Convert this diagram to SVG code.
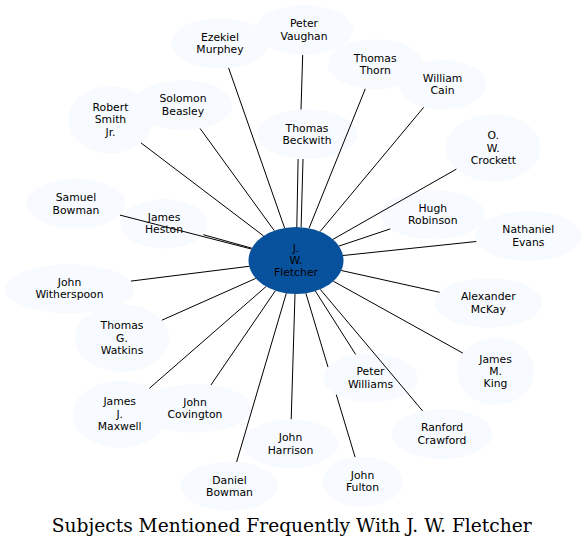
<svg xmlns="http://www.w3.org/2000/svg" width="587" height="547" viewBox="0 0 587 547">
<style>
.n ellipse{fill:#f7fbff;stroke:none}
.n text,.c text{font-family:"DejaVu Sans","Noto Sans",sans-serif;font-size:10.8px;fill:#000;text-anchor:middle}
.c ellipse{fill:#08519c;stroke:none}
.e path{stroke:#000;stroke-width:1;fill:none}
.title{font-family:"DejaVu Serif","Liberation Serif",serif;font-size:18px;fill:#000;text-anchor:middle}
</style>
<rect width="587" height="547" fill="#fff"/>
<g id="nodes">
<g id="ezekiel" class="n"><ellipse cx="220" cy="43.3" rx="49" ry="25"/><text><tspan x="220" y="40.6">Ezekiel</tspan><tspan x="220" y="53">Murphey</tspan></text></g>
<g id="vaughan" class="n"><ellipse cx="304" cy="30" rx="49" ry="25"/><text><tspan x="304" y="27.4">Peter</tspan><tspan x="304" y="39.7">Vaughan</tspan></text></g>
<g id="thorn" class="n"><ellipse cx="375.2" cy="64.3" rx="47.5" ry="25"/><text><tspan x="375.2" y="61.7">Thomas</tspan><tspan x="375.2" y="74">Thorn</tspan></text></g>
<g id="cain" class="n"><ellipse cx="442.5" cy="84.7" rx="44" ry="24.7"/><text><tspan x="442.5" y="82">William</tspan><tspan x="442.5" y="94.3">Cain</tspan></text></g>
<g id="smith" class="n"><ellipse cx="110.5" cy="119.7" rx="42" ry="33.7"/><text><tspan x="110.5" y="110.9">Robert</tspan><tspan x="110.5" y="123.2">Smith</tspan><tspan x="110.5" y="135.5">Jr.</tspan></text></g>
<g id="beasley" class="n"><ellipse cx="183" cy="105" rx="49.5" ry="25"/><text><tspan x="183" y="102.4">Solomon</tspan><tspan x="183" y="114.7">Beasley</tspan></text></g>
<g id="beckwith" class="n"><ellipse cx="307" cy="134.2" rx="50.3" ry="24.8"/><text><tspan x="307" y="131.6">Thomas</tspan><tspan x="307" y="143.9">Beckwith</tspan></text></g>
<g id="crockett" class="n"><ellipse cx="493.3" cy="148" rx="47.3" ry="33.7"/><text><tspan x="493.3" y="139.2">O.</tspan><tspan x="493.3" y="151.5">W.</tspan><tspan x="493.3" y="163.8">Crockett</tspan></text></g>
<g id="samuel" class="n"><ellipse cx="76" cy="203.8" rx="49.3" ry="25"/><text><tspan x="76" y="201.2">Samuel</tspan><tspan x="76" y="213.5">Bowman</tspan></text></g>
<g id="heston" class="n"><ellipse cx="164" cy="223.7" rx="44" ry="24.7"/><text><tspan x="164" y="221">James</tspan><tspan x="164" y="233.3">Heston</tspan></text></g>
<g id="robinson" class="n"><ellipse cx="432.8" cy="214.7" rx="52" ry="24.7"/><text><tspan x="432.8" y="212">Hugh</tspan><tspan x="432.8" y="224.3">Robinson</tspan></text></g>
<g id="evans" class="n"><ellipse cx="528.3" cy="236" rx="53.3" ry="25"/><text><tspan x="528.3" y="233.4">Nathaniel</tspan><tspan x="528.3" y="245.7">Evans</tspan></text></g>
<g id="witherspoon" class="n"><ellipse cx="69.5" cy="288.7" rx="64.5" ry="24.7"/><text><tspan x="69.5" y="286">John</tspan><tspan x="69.5" y="298.3">Witherspoon</tspan></text></g>
<g id="watkins" class="n"><ellipse cx="122" cy="338" rx="47" ry="33.7"/><text><tspan x="122" y="329.2">Thomas</tspan><tspan x="122" y="341.5">G.</tspan><tspan x="122" y="353.8">Watkins</tspan></text></g>
<g id="mckay" class="n"><ellipse cx="488.3" cy="303" rx="54" ry="24.7"/><text><tspan x="488.3" y="300.4">Alexander</tspan><tspan x="488.3" y="312.7">McKay</tspan></text></g>
<g id="king" class="n"><ellipse cx="495.5" cy="371.3" rx="38.8" ry="33.7"/><text><tspan x="495.5" y="362.5">James</tspan><tspan x="495.5" y="374.8">M.</tspan><tspan x="495.5" y="387.1">King</tspan></text></g>
<g id="maxwell" class="n"><ellipse cx="119.7" cy="414.2" rx="47" ry="33.5"/><text><tspan x="119.7" y="405.4">James</tspan><tspan x="119.7" y="417.7">J.</tspan><tspan x="119.7" y="430">Maxwell</tspan></text></g>
<g id="covington" class="n"><ellipse cx="195" cy="408.3" rx="56" ry="24.3"/><text><tspan x="195" y="405.7">John</tspan><tspan x="195" y="418">Covington</tspan></text></g>
<g id="williams" class="n"><ellipse cx="370.5" cy="377.8" rx="47.2" ry="24.5"/><text><tspan x="370.5" y="375.2">Peter</tspan><tspan x="370.5" y="387.5">Williams</tspan></text></g>
<g id="crawford" class="n"><ellipse cx="442" cy="434" rx="50.3" ry="25"/><text><tspan x="442" y="431.4">Ranford</tspan><tspan x="442" y="443.7">Crawford</tspan></text></g>
<g id="harrison" class="n"><ellipse cx="290.5" cy="443.8" rx="48" ry="24.5"/><text><tspan x="290.5" y="441.2">John</tspan><tspan x="290.5" y="453.5">Harrison</tspan></text></g>
<g id="dbowman" class="n"><ellipse cx="229.5" cy="486.2" rx="48.8" ry="24.5"/><text><tspan x="229.5" y="483.6">Daniel</tspan><tspan x="229.5" y="495.9">Bowman</tspan></text></g>
<g id="fulton" class="n"><ellipse cx="362.5" cy="481.7" rx="40.2" ry="25"/><text><tspan x="362.5" y="479.1">John</tspan><tspan x="362.5" y="491.4">Fulton</tspan></text></g>
<g id="fletcher" class="c"><ellipse cx="296" cy="260.5" rx="47.5" ry="33.5"/><text><tspan x="296" y="251.7">J.</tspan><tspan x="296" y="264">W.</tspan><tspan x="296" y="276.3">Fletcher</tspan></text></g>
</g>
<g id="connectors" class="e">
<path d="M284.6,228 L228.6,67.9"/>
<path d="M274.3,230.7 L200.1,128.5"/>
<path d="M263.7,236 L141,142.9"/>
<path d="M251.4,249 L120,215.1"/>
<path d="M251.8,248.2 L203.4,234.7"/>
<path d="M296.8,227.3 L298.1,159"/>
<path d="M301.1,227.2 L303,159"/>
<path d="M301,109.5 L302.7,55"/>
<path d="M309,228.3 L365.3,88.8"/>
<path d="M320.1,231.6 L423.7,107.3"/>
<path d="M332.9,239.4 L456.4,169.1"/>
<path d="M338.9,246.1 L390.3,228.9"/>
<path d="M343,255.5 L476.3,241.5"/>
<path d="M249.2,266.3 L130.9,281.1"/>
<path d="M255.8,278.4 L161.9,320.2"/>
<path d="M266.1,286.5 L149.4,388.3"/>
<path d="M275.4,290.7 L210.9,385"/>
<path d="M286.3,293.3 L236.6,462"/>
<path d="M295,294 L291.2,419.3"/>
<path d="M305.9,293.3 L328,367.1 M336.3,394.7 L355.1,457.1"/>
<path d="M315.4,291.1 L355.7,354.5"/>
<path d="M320.2,289.3 L422.6,410.9"/>
<path d="M333.3,281.2 L462.8,353.1"/>
<path d="M341.3,270.5 L439.7,292.3"/>
</g>
<text class="title" x="291.7" y="531.5" textLength="480" lengthAdjust="spacingAndGlyphs">Subjects Mentioned Frequently With J. W. Fletcher</text>
</svg>
